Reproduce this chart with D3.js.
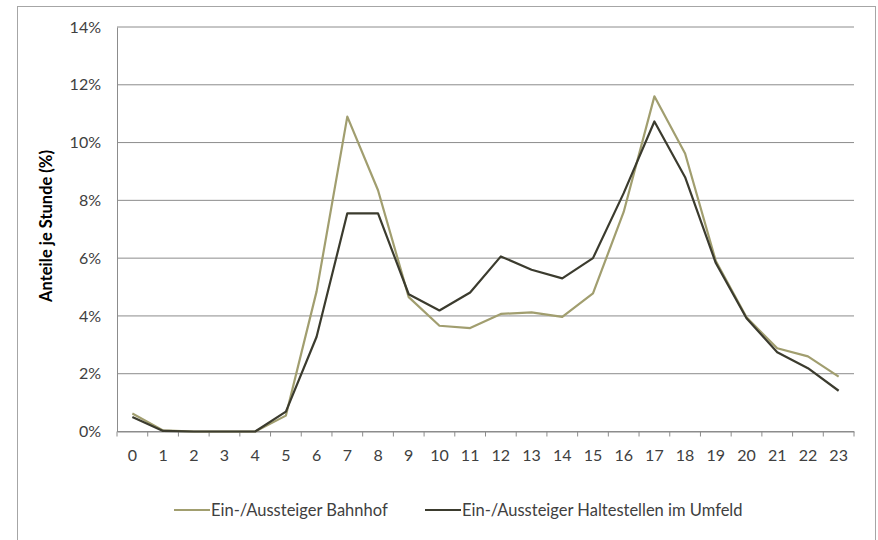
<!DOCTYPE html>
<html>
<head>
<meta charset="utf-8">
<script src="https://cdn.jsdelivr.net/npm/d3@7"></script>
<style>
    body { margin: 0; background: #fff; }
    text { font-family: Lato, "Open Sans", sans-serif; fill: #404040; }
</style>
</head>
<body>
<div id="chart"></div>
<script>
// hours of the day
const hours = d3.range(0, 24).map(String);

// share per hour (%)
const bahnhof = [0.62, 0.04, 0, 0, 0, 0.55, 4.85, 10.9, 8.35, 4.65, 3.66, 3.58, 4.07, 4.12, 3.97, 4.78, 7.6, 11.6, 9.62, 5.9, 3.95, 2.88, 2.6, 1.9];
const umfeld = [0.5, 0.02, 0, 0, 0, 0.69, 3.28, 7.55, 7.55, 4.75, 4.19, 4.81, 6.06, 5.6, 5.3, 6.0, 8.25, 10.73, 8.8, 5.83, 3.92, 2.74, 2.19, 1.41];

const yTicks = [0, 2, 4, 6, 8, 10, 12, 14];

const series = [
    { name: "Ein-/Aussteiger Bahnhof", values: bahnhof, color: "#a19e6f" },
    { name: "Ein-/Aussteiger Haltestellen im Umfeld", values: umfeld, color: "#3b3b2e" },
];

const width = 878, height = 540;
const plot = { left: 117, right: 854, top: 27, bottom: 431.5 };

const svg = d3.select("#chart")
    .append("svg")
    .attr("width", width)
    .attr("height", height);

// outer frame
svg.append("rect")
    .attr("x", 17.5)
    .attr("y", 6.5)
    .attr("width", 858)
    .attr("height", 560)
    .attr("fill", "none")
    .attr("stroke", "#a6a6a6");

const x = d3.scaleBand()
    .domain(hours)
    .range([plot.left, plot.right])
    .padding(0);

const y = d3.scaleLinear()
    .domain([0, 14])
    .range([plot.bottom, plot.top]);

// gridlines
svg.append("g")
    .selectAll("line")
    .data(yTicks)
    .enter()
    .append("line")
    .attr("x1", plot.left)
    .attr("x2", plot.right)
    .attr("y1", d => y(d))
    .attr("y2", d => y(d))
    .attr("stroke", "#8c8c8c")
    .attr("stroke-width", 1);

// y axis labels
const yAxis = svg.append("g")
    .attr("transform", `translate(${plot.left},0)`)
    .call(d3.axisLeft(y).tickValues(yTicks).tickSize(0).tickPadding(16).tickFormat(d => d + "%"));
yAxis.select(".domain").attr("stroke", "#8c8c8c");
yAxis.selectAll("text")
    .style("font-size", "16px")
    .attr("fill", "#404040");

// x axis
const xAxis = svg.append("g")
    .attr("transform", `translate(0,${plot.bottom})`)
    .call(d3.axisBottom(x).tickSize(0).tickPadding(18));
xAxis.select(".domain").attr("stroke", "#8c8c8c");
xAxis.selectAll("text")
    .style("font-size", "16px")
    .attr("fill", "#404040");

// tick marks on category boundaries
const edges = hours.map(h => x(h)).concat([x.range()[1]]);
svg.append("g")
    .selectAll("line")
    .data(edges)
    .enter()
    .append("line")
    .attr("x1", d => d)
    .attr("x2", d => d)
    .attr("y1", plot.bottom)
    .attr("y2", plot.bottom + 5)
    .attr("stroke", "#8c8c8c");

// y title
svg.append("text")
    .attr("transform", `translate(52,226) rotate(-90)`)
    .attr("text-anchor", "middle")
    .style("font-size", "16.5px")
    .style("font-weight", "bold")
    .style("fill", "#000")
    .text("Anteile je Stunde (%)");

// lines
const line = d3.line()
    .x((d, i) => x(hours[i]) + x.bandwidth() / 2)
    .y(d => y(d));

svg.append("g")
    .selectAll("path")
    .data(series)
    .enter()
    .append("path")
    .attr("d", d => line(d.values))
    .attr("fill", "none")
    .attr("stroke", d => d.color)
    .attr("stroke-width", 2.2)
    .attr("stroke-linejoin", "round");

// legend
const legendX = [174, 425];
const legend = svg.append("g")
    .selectAll("g")
    .data(series)
    .enter()
    .append("g")
    .attr("transform", (d, i) => `translate(${legendX[i]},510)`);

legend.append("line")
    .attr("x1", 0)
    .attr("x2", 36)
    .attr("stroke", d => d.color)
    .attr("stroke-width", 2.2);

legend.append("text")
    .attr("x", 37)
    .attr("dy", "0.35em")
    .style("font-size", "16.5px")
    .text(d => d.name);
</script>
</body>
</html>
